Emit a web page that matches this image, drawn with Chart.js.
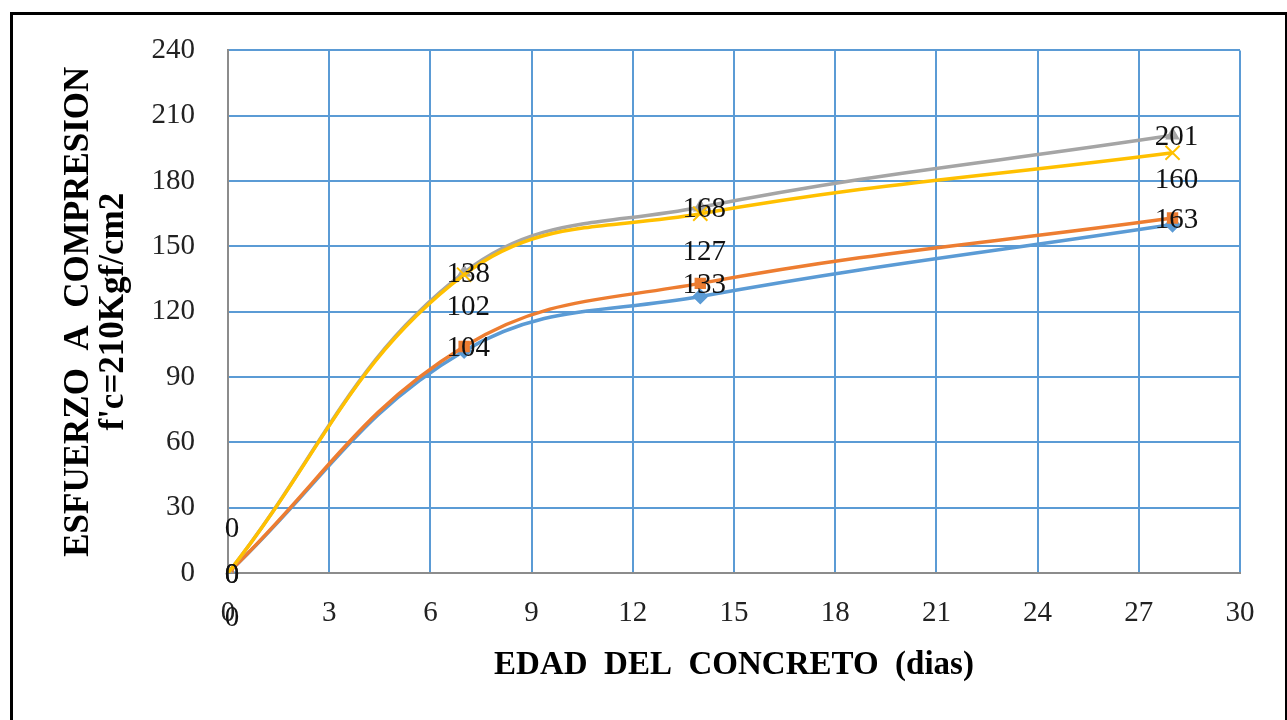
<!DOCTYPE html>
<html lang="es">
<head>
  <meta charset="UTF-8">
  <title>Esfuerzo a compresion vs edad del concreto</title>
  <script src="https://cdn.jsdelivr.net/npm/chart.js@4"></script>
  <style>
    html, body {
      margin: 0;
      padding: 0;
      background: #fff;
      overflow: hidden;
    }
    #wrap {
      position: relative;
      width: 1287px;
      height: 720px;
    }
    #frame {
      position: absolute;
      left: 10px;
      top: 12px;
      width: 1272px;
      height: 720px;
      border: 3px solid #000;
      pointer-events: none;
    }
  </style>
</head>
<body>
  <div id="wrap">
    <canvas id="chart" width="1287" height="720"></canvas>
    <div id="frame"></div>
  </div>

  <script>
    // Data
    const days = [0, 7, 14, 28]
    const serie1 = [0, 102, 127, 160]   // blue
    const serie2 = [0, 104, 133, 163]   // orange
    const serie3 = [0, 138, 168, 201]   // gray
    const serie4 = [0, 137, 165, 193]   // yellow
    const xTicks = [0, 3, 6, 9, 12, 15, 18, 21, 24, 27, 30]
    const yTicks = [0, 30, 60, 90, 120, 150, 180, 210, 240]

    const toPoints = values => values.map((v, i) => ({ x: days[i], y: v }))

    const serif = '"Liberation Serif", "DejaVu Serif", serif'

    // Draw the value labels the way Excel left them in the picture
    const valueLabels = {
      id: 'valueLabels',
      afterDatasetsDraw(chart) {
        const ctx = chart.ctx
        ctx.save()
        ctx.font = '29px ' + serif
        ctx.fillStyle = '#111'
        ctx.textAlign = 'center'
        ctx.textBaseline = 'middle'
        chart.data.datasets.forEach((ds, di) => {
          const meta = chart.getDatasetMeta(di)
          meta.data.forEach((pt, i) => {
            if (ds.showLabel && !ds.showLabel[i]) return
            ctx.fillText(String(ds.data[i].y), pt.x + 4, pt.y + ds.labelOffset)
          })
        })
        ctx.restore()
      }
    }

    const common = {
      showLine: true,
      tension: 0.4,
      borderWidth: 3.5,
      pointBorderWidth: 1.5
    }

    new Chart(document.getElementById('chart'), {
      type: 'scatter',
      data: {
        datasets: [
          {
            ...common,
            label: 'Serie 1',
            data: toPoints(serie1),
            borderColor: '#5B9BD5',
            backgroundColor: '#5B9BD5',
            pointStyle: 'rectRot',
            pointRadius: 7,
            labelOffset: -44,
            order: 3
          },
          {
            ...common,
            label: 'Serie 2',
            data: toPoints(serie2),
            borderColor: '#ED7D31',
            backgroundColor: '#ED7D31',
            pointStyle: 'rect',
            pointRadius: 7,
            labelOffset: 2,
            order: 2
          },
          {
            ...common,
            label: 'Serie 3',
            data: toPoints(serie3),
            borderColor: '#A5A5A5',
            backgroundColor: '#A5A5A5',
            pointStyle: 'triangle',
            pointRadius: 7,
            labelOffset: 2,
            order: 1
          },
          {
            ...common,
            label: 'Serie 4',
            data: toPoints(serie4),
            borderColor: '#FFC000',
            backgroundColor: '#FFC000',
            pointStyle: 'crossRot',
            pointRadius: 10,
            pointBorderWidth: 2,
            labelOffset: 45,
            showLabel: [true, false, false, false],
            order: 0
          }
        ]
      },
      options: {
        responsive: false,
        animation: false,
        layout: {
          padding: { top: 48, right: 47, left: 0, bottom: 0 }
        },
        plugins: {
          legend: { display: false },
          tooltip: { enabled: false }
        },
        scales: {
          x: {
            type: 'linear',
            min: 0,
            max: 30,
            afterFit(scale) { scale.height = 147 },
            afterBuildTicks(scale) { scale.ticks = xTicks.map(v => ({ value: v })) },
            grid: { color: '#5B9BD5', lineWidth: 2, drawTicks: false },
            border: { color: '#8C8C8C', width: 2 },
            ticks: {
              padding: 23,
              color: '#222',
              maxRotation: 0,
              font: { family: serif, size: 29 }
            },
            title: {
              display: true,
              text: 'EDAD  DEL  CONCRETO  (dias)',
              color: '#000',
              font: { family: serif, size: 33, weight: 'bold', lineHeight: 1.06 },
              padding: { top: 0, bottom: 37 }
            }
          },
          y: {
            min: 0,
            max: 240,
            afterFit(scale) { scale.width = 228 },
            afterBuildTicks(scale) { scale.ticks = yTicks.map(v => ({ value: v })) },
            grid: { color: '#5B9BD5', lineWidth: 2, drawTicks: false },
            border: { color: '#8C8C8C', width: 2 },
            ticks: {
              padding: 33,
              color: '#222',
              font: { family: serif, size: 29 }
            },
            title: {
              display: true,
              text: ['ESFUERZO  A  COMPRESION', "f'c=210Kgf/cm2"],
              color: '#000',
              font: { family: serif, size: 35, weight: 'bold', lineHeight: 1.0 },
              padding: { top: 61, bottom: 0 }
            }
          }
        }
      },
      plugins: [valueLabels]
    })
  </script>
</body>
</html>
